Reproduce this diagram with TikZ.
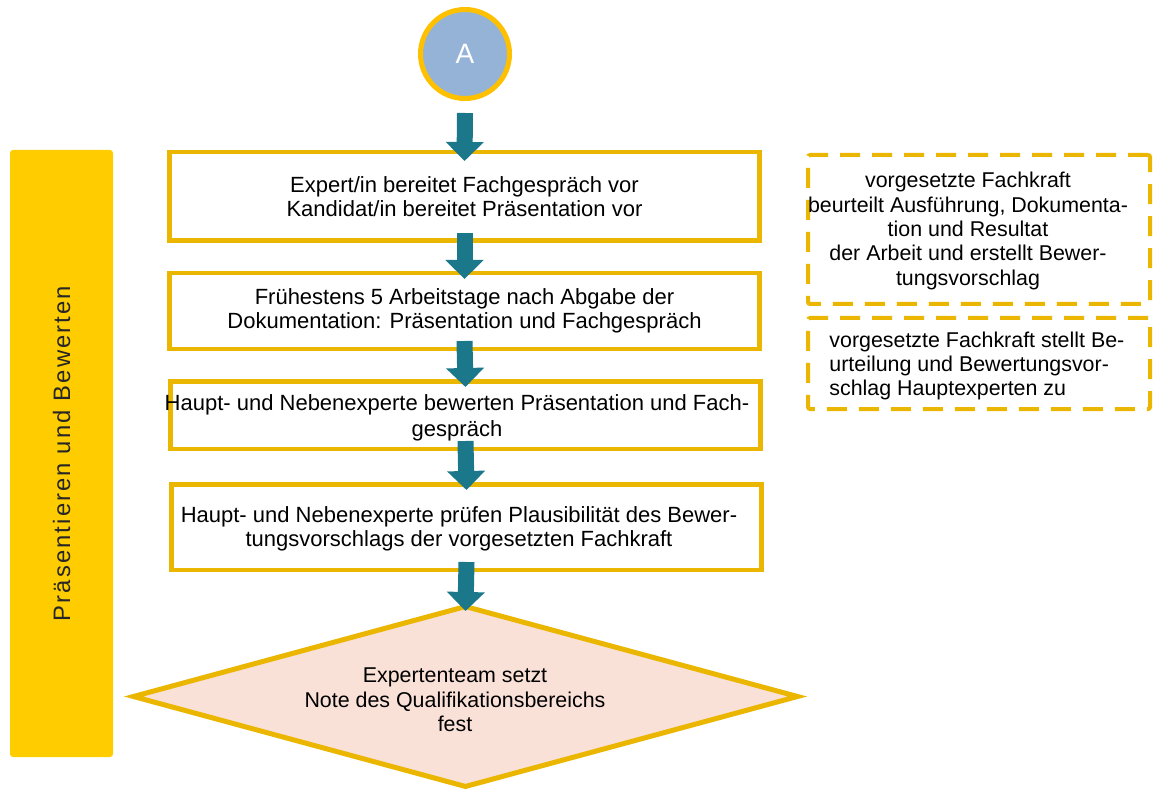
\documentclass[tikz,border=0pt]{standalone}
\usepackage{fontspec}
\setmainfont{Liberation Sans}
\usetikzlibrary{shapes.geometric,arrows.meta,calc}

\definecolor{boxyellow}{RGB}{234,182,0}
\definecolor{barfill}{RGB}{255,204,0}
\definecolor{circleborder}{RGB}{255,192,0}
\definecolor{circlefill}{RGB}{149,179,215}
\definecolor{arrowteal}{RGB}{26,120,138}
\definecolor{goalfill}{RGB}{250,225,216}

\begin{document}
\begin{tikzpicture}[x=0.5pt,y=-0.5pt,every node/.style={inner sep=0pt},
    stepbox/.style={draw=boxyellow,line width=2.25pt,minimum width=295pt},
    notebox/.style={draw=boxyellow,line width=2pt,dash pattern=on 10pt off 6pt,
        rounded corners=1pt,minimum width=171pt},
    flowtext/.style={font=\fontsize{11}{12.3}\selectfont,align=center},
    notetext/.style={font=\fontsize{10.7}{12.2}\selectfont,align=center},
    flowarrow/.style={draw=arrowteal,line width=8pt,-{Triangle[width=18.5pt,length=9.5pt]}}]
    \useasboundingbox (0,0) rectangle (1162,791);

    % phase bar
    \node[fill=barfill,rounded corners=1.5pt,rotate=90,minimum width=303.5pt,
        minimum height=51.5pt,text=black!85,
        font=\fontsize{11.9}{14}\selectfont\addfontfeatures{LetterSpace=9}]
        (phase) at (61.5,453.5) {Präsentieren und Bewerten};

    \node[circle,draw=circleborder,fill=circlefill,line width=2.5pt,minimum size=44.5pt,
        text=white,font=\fontsize{14}{16}\selectfont] (start) at (465,54) {A};

    \node[stepbox,minimum height=44.25pt,flowtext] (s1) at (464.5,196.5)
        {Expert/in bereitet Fachgespräch vor\\Kandidat/in bereitet Präsentation vor};
    \node[stepbox,minimum height=37.75pt,flowtext] (s2) at (464.5,311)
        {Frühestens 5 Arbeitstage nach Abgabe der\\Dokumentation: Präsentation und Fachgespräch};
    \node[stepbox,minimum height=33.75pt] (s3) at (465.5,415) {};
    \node[flowtext,font=\fontsize{11}{13.2}\selectfont] (t3) at (457,418)
        {Haupt- und Nebenexperte bewerten Präsentation und Fach-\\gespräch};
    \node[stepbox,minimum height=42.75pt] (s4) at (466.5,527) {};
    \node[flowtext] (t4) at (459,529)
        {Haupt- und Nebenexperte prüfen Plausibilität des Bewer-\\tungsvorschlags der vorgesetzten Fachkraft};

    \node[diamond,draw=boxyellow,fill=goalfill,line width=2.5pt,minimum width=333pt,
        minimum height=91pt] (goal) at (465.5,696.5) {};
    \node[notetext] (tgoal) at (455,700)
        {Expertenteam setzt\\Note des Qualifikationsbereichs\\fest};

    % side notes
    \node[notebox,minimum height=74.5pt] (noteA) at (979,229.5) {};
    \node[notetext] (tA) at (968,231)
        {vorgesetzte Fachkraft\\beurteilt Ausführung, Dokumenta-\\tion und Resultat\\der Arbeit und erstellt Bewer-\\tungsvorschlag};
    \node[notebox,minimum height=45.5pt] (noteB) at (979,363.5) {};
    \node[notetext,align=left,anchor=west] (tB) at (829,366)
        {vorgesetzte Fachkraft stellt Be-\\urteilung und Bewertungsvor-\\schlag Hauptexperten zu};

    \draw[flowarrow] ($(start.south)+(0,12)$) -- ($(s1.north)+(0,11)$);
    \foreach \a/\b in {s1/s2,s2/s3,s3/s4,s4/goal}
        \draw[flowarrow] ($(\a.south)+(0,-10)$) -- ($(\b.north)+(0,8)$);
\end{tikzpicture}
\end{document}
